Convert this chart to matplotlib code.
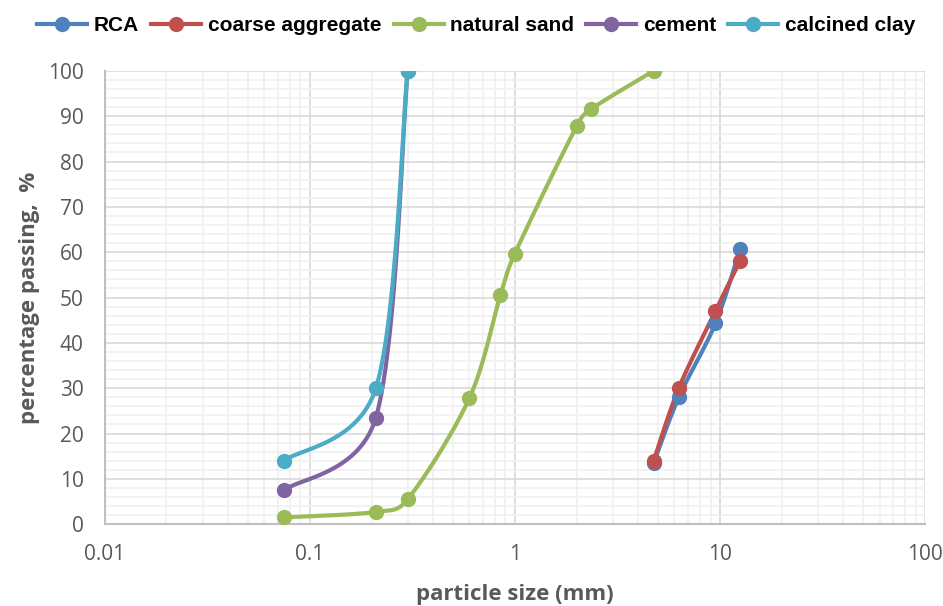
import numpy as np
import matplotlib.pyplot as plt
from matplotlib.ticker import FixedLocator, NullFormatter

# sieve sizes (mm) and percentage passing
rca_size = [4.75, 6.3, 9.5, 12.5]
rca_pass = [13.5, 28.0, 44.3, 60.6]
coarse_size = [4.75, 6.3, 9.5, 12.5]
coarse_pass = [14.0, 30.0, 47.0, 58.0]
sand_size = [0.075, 0.21, 0.3, 0.6, 0.85, 1.0, 2.0, 2.36, 4.75]
sand_pass = [1.5, 2.7, 5.5, 27.8, 50.5, 59.7, 87.8, 91.6, 100.0]
cement_size = [0.075, 0.21, 0.3]
cement_pass = [7.5, 23.5, 100.0]
clay_size = [0.075, 0.21, 0.3]
clay_pass = [14.0, 30.0, 100.0]

series = [
    ('RCA', rca_size, rca_pass, '#4F81BD'),
    ('coarse aggregate', coarse_size, coarse_pass, '#C0504D'),
    ('natural sand', sand_size, sand_pass, '#9BBB59'),
    ('cement', cement_size, cement_pass, '#8064A2'),
    ('calcined clay', clay_size, clay_pass, '#4BACC6'),
]


def smooth(xs, ys, n=30):
    # Excel-like smoothed line: cardinal bezier in screen-ish space
    px = np.log10(xs) * 205.0
    py = np.asarray(ys) * 4.53
    pts = np.column_stack([px, py])
    out = [pts[0]]
    for i in range(len(pts) - 1):
        p0 = pts[i - 1] if i > 0 else pts[i]
        p1, p2 = pts[i], pts[i + 1]
        p3 = pts[i + 2] if i + 2 < len(pts) else pts[i + 1]
        d = np.linalg.norm(p2 - p1)
        t1 = (p2 - p0) / 6.0
        t2 = (p3 - p1) / 6.0
        # keep handles shorter than the segment so the curve does not overshoot
        for t in (t1, t2):
            L = np.linalg.norm(t)
            if L > d / 2.0:
                t *= d / 2.0 / L
        c1 = p1 + t1
        c2 = p2 - t2
        s = np.linspace(0, 1, n)[1:, None]
        seg = ((1 - s) ** 3) * p1 + 3 * ((1 - s) ** 2) * s * c1 + 3 * (1 - s) * s ** 2 * c2 + s ** 3 * p2
        out.extend(seg)
    out = np.array(out)
    return 10 ** (out[:, 0] / 205.0), out[:, 1] / 4.53


fig = plt.figure(figsize=(9.43, 6.06), dpi=100)
ax = fig.add_axes([0.111, 0.135, 0.870, 0.748])

for name, xs, ys, col in series:
    sx, sy = smooth(xs, ys)
    ax.plot(sx, sy, color=col, lw=3, solid_capstyle='round', zorder=3)
    ax.plot(xs, ys, 'o', color=col, ms=10, zorder=4)
    ax.plot([], [], color=col, lw=3, marker='o', ms=10, label=name)

ax.set_xscale('log')
ax.set_xlim(0.01, 100)
ax.set_ylim(0, 100)
ax.xaxis.set_major_locator(FixedLocator([0.01, 0.1, 1, 10, 100]))
ax.set_xticklabels(['0.01', '0.1', '1', '10', '100'])
minors = [m * 10.0 ** e for e in range(-2, 2) for m in range(2, 10)]
ax.xaxis.set_minor_locator(FixedLocator(minors))
ax.xaxis.set_minor_formatter(NullFormatter())
ax.set_yticks(range(0, 101, 10))
ax.yaxis.set_minor_locator(FixedLocator([v for v in range(0, 101, 2) if v % 10]))

ax.grid(which='major', color='#D9D9D9', lw=1.2)
ax.grid(which='minor', color='#F0F0F0', lw=1.2)
ax.set_axisbelow(True)
ax.tick_params(which='both', length=0, labelsize=15, labelcolor='#595959')
ax.tick_params(axis='x', pad=14)
ax.tick_params(axis='y', pad=15)
for lab in ax.get_xticklabels() + ax.get_yticklabels():
    lab.set_family('Open Sans')
for s in ['top', 'right']:
    ax.spines[s].set_visible(False)
for s in ['left', 'bottom']:
    ax.spines[s].set_color('#BFBFBF')
    ax.spines[s].set_linewidth(1.5)

ax.set_xlabel('particle size (mm)', fontsize=16, fontweight='bold', color='#595959',
              family='Open Sans', labelpad=14)
ax.set_ylabel('percentage passing,  %', fontsize=16, fontweight='bold', color='#595959',
              family='Open Sans', labelpad=6)

fig.legend(loc='upper center', bbox_to_anchor=(0.505, 1.004), ncol=5, frameon=False,
           prop={'family': ['Liberation Sans', 'DejaVu Sans'], 'weight': 'bold', 'size': 15},
           handlelength=2.4, handletextpad=0.3, columnspacing=0.6)

fig.savefig('out.png', dpi=100)
